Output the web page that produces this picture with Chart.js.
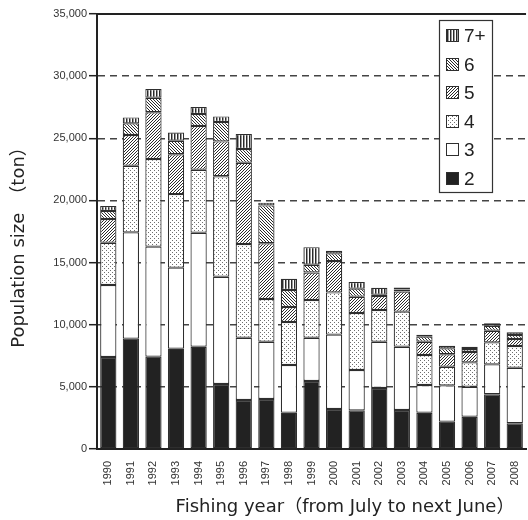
<!DOCTYPE html>
<html>
<head>
<meta charset="utf-8">
<script src="https://cdn.jsdelivr.net/npm/chart.js@4.4.1/dist/chart.umd.min.js"></script>
<style>
  html, body { margin: 0; padding: 0; background: #fff; overflow: hidden; }
  #wrap { width: 532px; height: 520px; }
</style>
</head>
<body>
<div id="wrap"><canvas id="c" width="532" height="520"></canvas></div>
<script>
// Fishing years (July to next June)
const years = ['1990','1991','1992','1993','1994','1995','1996','1997','1998','1999',
               '2000','2001','2002','2003','2004','2005','2006','2007','2008'];

// Population size by age class (ton)
const age2  = [7400, 8880, 7430, 8070, 8230, 5230, 3940, 4020, 2920, 5470, 3220, 3110, 4910, 3140, 2920, 2200, 2600, 4400, 2070];
const age3  = [5800, 8550, 8850, 6520, 9170, 8630, 5010, 4610, 3840, 3480, 5980, 3250, 3720, 5090, 2230, 2920, 2410, 2410, 4470];
const age4  = [3400, 5360, 7050, 5920, 5070, 8080, 7540, 3440, 3460, 3040, 3400, 4580, 2550, 2820, 2410, 1500, 1960, 1770, 1750];
const age5  = [1900, 2470, 3760, 3200, 3520, 2810, 6540, 4480, 1200, 2210, 2520, 1310, 1130, 1620, 1070, 1000,  830,  940,  560];
const age6  = [ 650,  940, 1170, 1090,  960, 1560, 1110, 3050, 1370,  620,  620,  650,  100,  160,  410,  480,  240,  400,  320];
const age7p = [ 400,  480,  700,  670,  560,  450, 1200,  220,  910, 1420,  210,  540,  570,  170,  150,  210,  190,  190,  220];

const ageLabels = ['2', '3', '4', '5', '6', '7+'];
const yTicks = [0, 5000, 10000, 15000, 20000, 25000, 30000, 35000];

const yTitle = 'Population size\u3000\uFF08ton\uFF09';
const xTitle = 'Fishing year\uFF08from July to next June\uFF09';

// ---- fill patterns -------------------------------------------------------
function makePattern(w, h, draw) {
  const cv = document.createElement('canvas');
  cv.width = w; cv.height = h;
  const g = cv.getContext('2d');
  g.fillStyle = '#fff';
  g.fillRect(0, 0, w, h);
  draw(g);
  return g.createPattern(cv, 'repeat');
}
const ink = '#2a2a2a';
const fills = [
  '#222222',                                   // age 2: solid black
  '#ffffff',                                   // age 3: white
  makePattern(4, 4, g => {                     // age 4: stipple
    g.fillStyle = '#6e6e6e';
    g.fillRect(0, 0, 1, 1);
    g.fillRect(2, 2, 1, 1);
  }),
  makePattern(3, 3, g => {                     // age 5: forward hatching
    g.fillStyle = ink;
    for (let i = 0; i < 3; i++) g.fillRect(i, 2 - i, 1, 1);
  }),
  makePattern(3, 3, g => {                     // age 6: back hatching
    g.fillStyle = ink;
    for (let i = 0; i < 3; i++) g.fillRect(i, i, 1, 1);
  }),
  makePattern(3, 1, g => {                     // age 7+: vertical lines
    g.fillStyle = ink;
    g.fillRect(0, 0, 1, 1);
    g.fillStyle = '#9a9a9a';
    g.fillRect(1, 0, 1, 1);
  })
];

const series = [age2, age3, age4, age5, age6, age7p];

const datasets = series.map((vals, i) => ({
  label: ageLabels[i],
  data: vals,
  backgroundColor: fills[i],
  borderColor: '#2e2e2e',
  borderWidth: 1.2,
  borderSkipped: false,
  barPercentage: 0.72,
  categoryPercentage: 1.0
}));

// ---- frame, legend and axis titles --------------------------------------
const decor = {
  id: 'decor',
  afterDraw(chart) {
    const { ctx, chartArea: a } = chart;
    ctx.save();

    // top frame line
    ctx.strokeStyle = '#222';
    ctx.lineWidth = 2;
    ctx.beginPath();
    ctx.moveTo(a.left - 1, a.top);
    ctx.lineTo(a.right, a.top);
    ctx.stroke();

    // legend box (age classes listed oldest first)
    const bx = 439, by = 20, bw = 53, bh = 172;
    ctx.fillStyle = '#fff';
    ctx.fillRect(bx, by, bw, bh);
    ctx.strokeStyle = '#333';
    ctx.lineWidth = 1.2;
    ctx.strokeRect(bx + 0.5, by + 0.5, bw, bh);

    const ds = chart.data.datasets;
    ctx.font = '19px "Liberation Sans", Arial, sans-serif';
    ctx.textBaseline = 'middle';
    ctx.textAlign = 'left';
    for (let k = 0; k < ds.length; k++) {
      const d = ds[ds.length - 1 - k];
      const cy = 36 + k * 28.5;
      const sx = 446, sy = Math.round(cy - 7), s = 13;
      ctx.fillStyle = d.backgroundColor;
      ctx.fillRect(sx, sy, s, s);
      ctx.strokeStyle = '#2e2e2e';
      ctx.lineWidth = 1;
      ctx.strokeRect(sx + 0.5, sy + 0.5, s - 1, s - 1);
      ctx.fillStyle = '#222';
      ctx.fillText(d.label, 464, cy + 1);
    }

    // axis titles
    ctx.fillStyle = '#222';
    ctx.textAlign = 'center';
    ctx.textBaseline = 'middle';
    ctx.font = '18px "DejaVu Sans", "Noto Sans CJK JP", sans-serif';
    ctx.save();
    ctx.translate(19, 243);
    ctx.rotate(-Math.PI / 2);
    ctx.fillText(yTitle, 0, 0);
    ctx.restore();
    ctx.fillText(xTitle, 345, 507);

    ctx.restore();
  }
};

Chart.defaults.font.family = '"Liberation Sans", Arial, sans-serif';
Chart.defaults.color = '#333';

new Chart(document.getElementById('c'), {
  type: 'bar',
  data: { labels: years, datasets },
  plugins: [decor],
  options: {
    responsive: false,
    animation: false,
    devicePixelRatio: 1,
    layout: { padding: { left: 0, right: 2, top: 14, bottom: 0 } },
    plugins: {
      legend: { display: false },
      tooltip: { enabled: false },
      title: { display: false }
    },
    scales: {
      x: {
        stacked: true,
        grid: { display: false },
        border: { display: true, color: '#222', width: 2 },
        ticks: {
          color: '#333',
          font: { size: 11 },
          minRotation: 90,
          maxRotation: 90,
          padding: 4,
          autoSkip: false
        },
        afterFit(scale) { scale.height = 71; }
      },
      y: {
        stacked: true,
        min: 0,
        max: 35000,
        afterBuildTicks(scale) { scale.ticks = yTicks.map(v => ({ value: v })); },
        grid: {
          color: c => (c.tick && (c.tick.value === 0 || c.tick.value === 35000)) ? 'rgba(0,0,0,0)' : '#444',
          lineWidth: 1.4,
          drawTicks: true,
          tickLength: 8,
          tickColor: '#222',
          tickWidth: 1.5
        },
        border: { display: true, color: '#222', width: 2, dash: [7, 5] },
        ticks: {
          color: '#333',
          font: { size: 11 },
          padding: 2,
          callback: v => v.toLocaleString('en-US')
        },
        afterFit(scale) { scale.width = 97; }
      }
    }
  }
});
</script>
</body>
</html>
